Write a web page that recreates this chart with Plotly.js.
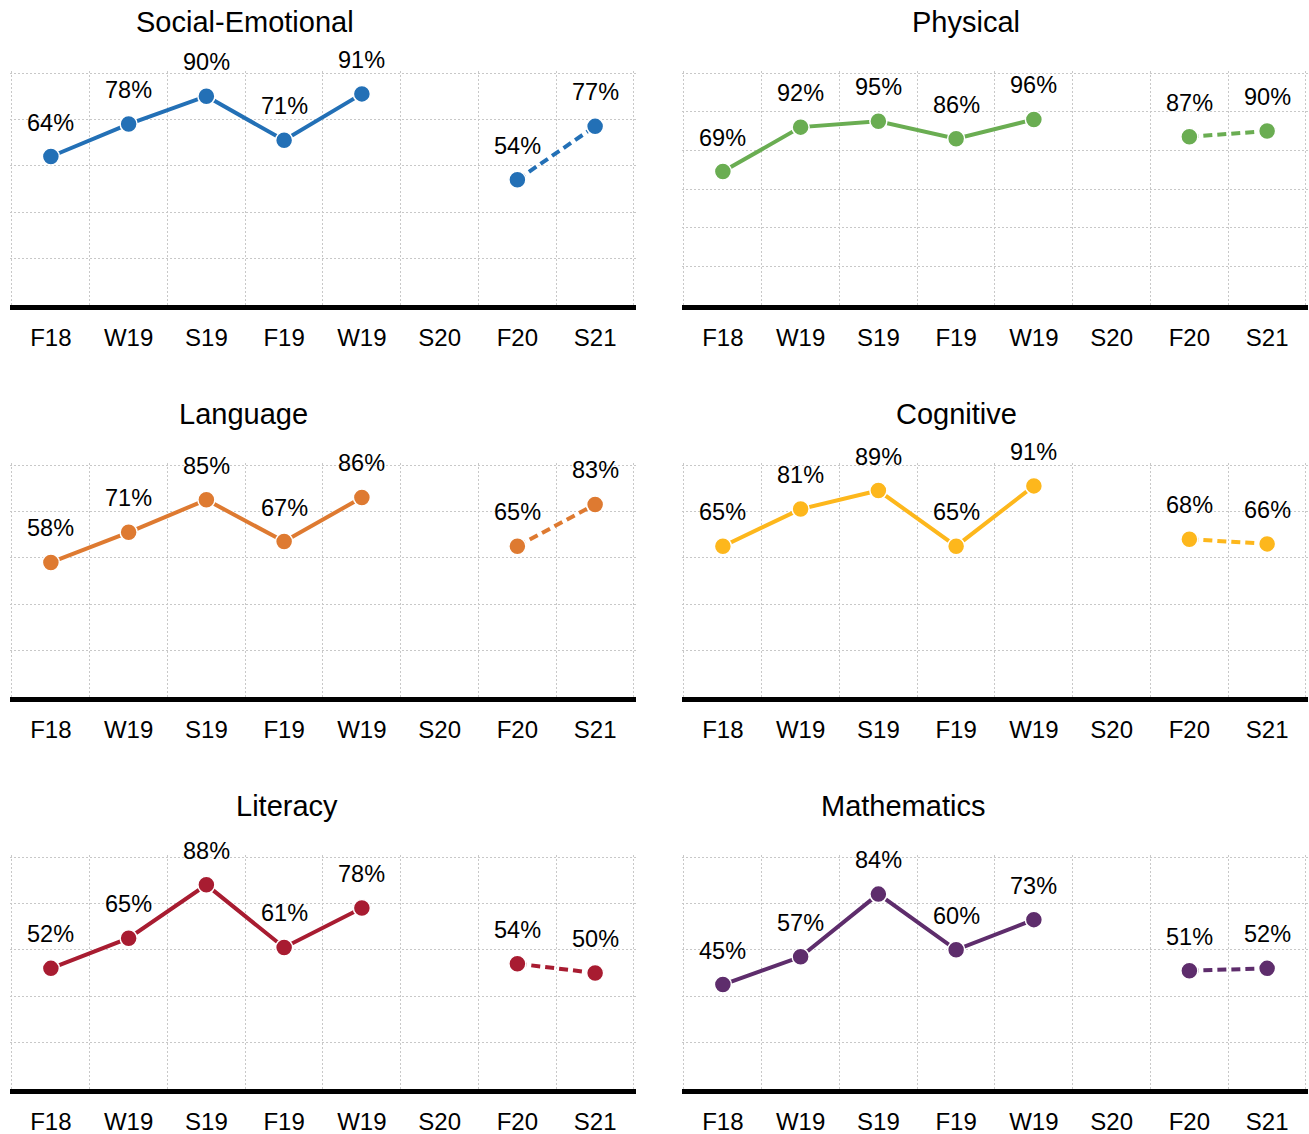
<!DOCTYPE html>
<html><head><meta charset="utf-8">
<script src="https://cdn.plot.ly/plotly-3.0.1.min.js"></script>
<style>html,body{margin:0;padding:0;background:#fff}#chart{width:1309px;height:1134px}</style>
</head><body><div id="chart"></div>
<script>
// ---- data ----
const terms = ["F18","W19","S19","F19","W19","S20","F20","S21"];
const subjects = ["Social-Emotional","Physical","Language","Cognitive","Literacy","Mathematics"];
const socialEmotional = [64,78,90,71,91,null,54,77];
const physical        = [69,92,95,86,96,null,87,90];
const language        = [58,71,85,67,86,null,65,83];
const cognitive       = [65,81,89,65,91,null,68,66];
const literacy        = [52,65,88,61,78,null,54,50];
const mathematics     = [45,57,84,60,73,null,51,52];
const seriesValues = [socialEmotional, physical, language, cognitive, literacy, mathematics];

// ---- styling / layout ----
const colors = ["#2370B6","#6AAD52","#DE7A31","#FDB71C","#A81C31","#5E2D6C"];
const yMax = [100,120,100,100,100,100];
const W = 1309, H = 1134;
const colX = [[12,634],[684,1306]];
const rowY = [[73,305],[465,697],[857,1089]];
const titleX = [245,966,243,956,287,903];
const titleY = [22,414,806];
const FONT = "Liberation Sans, Arial, sans-serif";
const GRID = "#c8c8c8";
const solidIdx = [0,1,2,3,4];
const dashIdx = [6,7];
const PAD = 0.03; // small range padding so edge gridlines are drawn

const data = [];
const annotations = [];
const layout = {
  width: W, height: H, margin: {l:0,r:0,t:0,b:0},
  paper_bgcolor: "#fff", plot_bgcolor: "#fff", showlegend: false,
  font: {family: FONT, color: "#000"}
};

subjects.forEach((name, i) => {
  const r = Math.floor(i/2), c = i % 2;
  const sfx = i === 0 ? "" : String(i+1);
  const xa = "x" + sfx, ya = "y" + sfx;
  const vals = seriesValues[i];
  const col = colors[i];
  const mk = {size: 17, color: col, line: {color: "#fff", width: 1.5}};
  data.push({type: "scatter", mode: "lines+markers", xaxis: xa, yaxis: ya,
    x: solidIdx, y: solidIdx.map(k => vals[k]),
    line: {color: col, width: 4}, marker: mk, hoverinfo: "skip"});
  data.push({type: "scatter", mode: "lines+markers", xaxis: xa, yaxis: ya,
    x: dashIdx, y: dashIdx.map(k => vals[k]),
    line: {color: col, width: 4, dash: "9px,5px"}, marker: mk, hoverinfo: "skip"});

  vals.forEach((v, k) => {
    if (v === null) return;
    annotations.push({xref: xa, yref: ya, x: k, y: v, text: v + "%", showarrow: false,
      yanchor: "middle", yshift: 34, font: {size: 23.5, family: FONT, color: "#000"}});
  });
  annotations.push({xref: "paper", yref: "paper", x: titleX[i]/W, y: 1 - titleY[r]/H,
    xanchor: "center", yanchor: "middle", text: name, showarrow: false,
    font: {size: 29, family: FONT, color: "#000"}});

  const n = terms.length;
  const pxX = (colX[c][1] - colX[c][0]) / n;
  const bound = [];
  for (let b = -0.5; b <= n - 0.5; b += 1) bound.push(b);
  layout["xaxis" + sfx] = {
    domain: [(colX[c][0] - PAD*pxX)/W, (colX[c][1] + PAD*pxX)/W], anchor: ya,
    range: [-0.5 - PAD, n - 0.5 + PAD], fixedrange: true,
    tickmode: "array", tickvals: terms.map((t, k) => k), ticktext: terms,
    showgrid: false, zeroline: false, ticks: "", ticklabelstandoff: 7,
    tickfont: {size: 24, family: FONT, color: "#000"},
    showline: true, linecolor: "#000", linewidth: 5,
    minor: {tickmode: "array", tickvals: bound, showgrid: true, gridcolor: GRID,
      griddash: "2px,2px", gridwidth: 1, ticks: ""}
  };
  const yt = [];
  for (let t = 0; t <= yMax[i]; t += 20) yt.push(t);
  const yPad = yMax[i] * 0.01;
  const pxY = (rowY[r][1] - rowY[r][0]) / yMax[i];
  layout["yaxis" + sfx] = {
    domain: [1 - rowY[r][1]/H, 1 - (rowY[r][0] - yPad*pxY)/H], anchor: xa,
    range: [0, yMax[i] + yPad], fixedrange: true,
    tickmode: "array", tickvals: yt, showticklabels: false, ticks: "",
    showgrid: true, gridcolor: GRID, griddash: "2px,2px", gridwidth: 1,
    zeroline: false, showline: false
  };
});
layout.annotations = annotations;
Plotly.newPlot("chart", data, layout, {displayModeBar: false, staticPlot: true});
</script>
</body></html>
